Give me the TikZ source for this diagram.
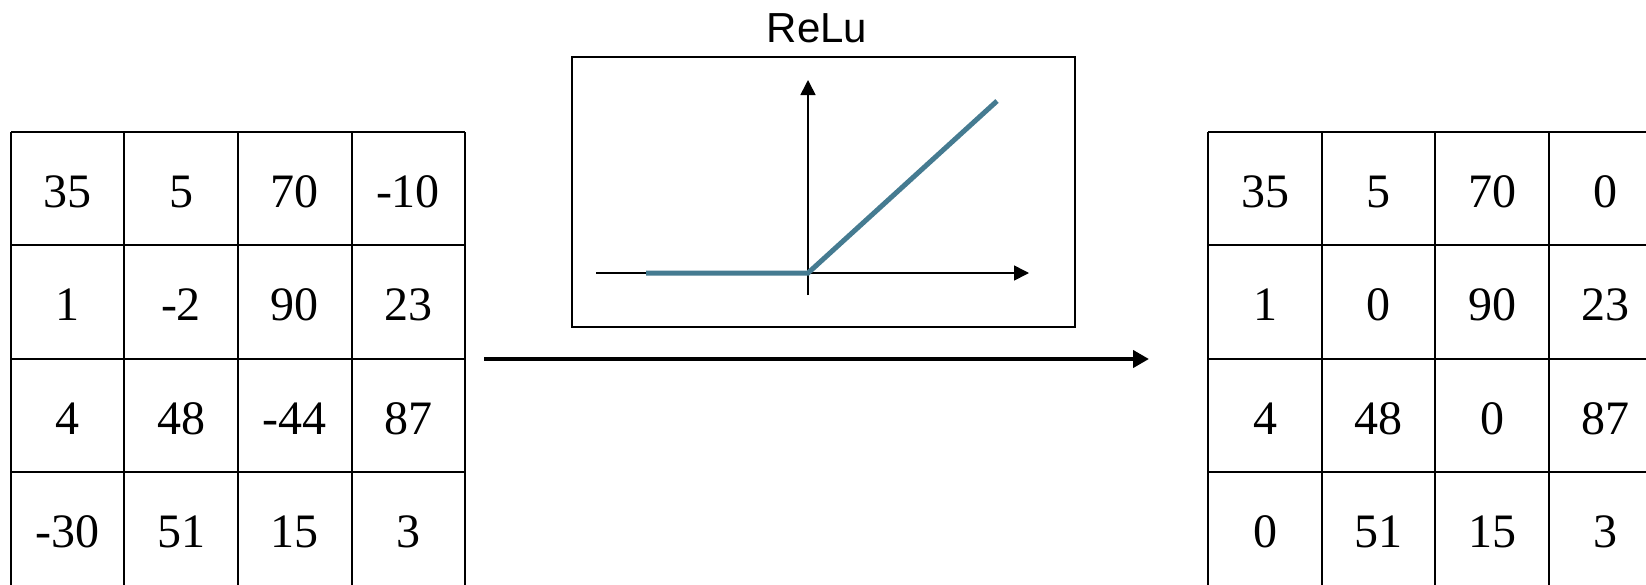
\documentclass[tikz,border=0pt]{standalone}
\usepackage{fontspec}
\setmainfont{Liberation Serif}
\newfontfamily\labelfont{Liberation Sans}
\usetikzlibrary{arrows.meta}
\definecolor{relublue}{HTML}{457B91}
\tikzset{
  gridline/.style={line width=1.9pt, black},
  cellnum/.style={font=\fontsize{48}{48}\selectfont, inner sep=0pt, anchor=base},
  axis/.style={line width=1.6pt, -{Triangle[length=15pt,width=15pt]}},
  reluline/.style={line width=5pt, relublue},
  framebox/.style={draw, line width=1.7pt},
  bigarrow/.style={line width=4pt, -{Triangle[length=16pt,width=17pt]}}
}
\begin{document}
\begin{tikzpicture}[x=1pt,y=-1pt]
\useasboundingbox (0,0) rectangle (1646,584);
% left grid
\foreach \x in {11,124,238,352,465} \draw[gridline] (\x,132) -- (\x,590);
\foreach \y in {132,245,359,472} \draw[gridline] (11,\y) -- (465,\y);
% right grid
\foreach \x in {1208,1322,1435,1549} \draw[gridline] (\x,132) -- (\x,590);
\foreach \y in {132,245,359,472} \draw[gridline] (1208,\y) -- (1660,\y);
% left numbers
\foreach \v [count=\i from 0] in {35,5,70,-10} \node[cellnum] (la\i) at ({67.5+113.5*\i},207) {\v};
\foreach \v [count=\i from 0] in {1,-2,90,23} \node[cellnum] (lb\i) at ({67.5+113.5*\i},320.5) {\v};
\foreach \v [count=\i from 0] in {4,48,-44,87} \node[cellnum] (lc\i) at ({67.5+113.5*\i},434) {\v};
\foreach \v [count=\i from 0] in {-30,51,15,3} \node[cellnum] (ld\i) at ({67.5+113.5*\i},547.5) {\v};
% right numbers
\foreach \v [count=\i from 0] in {35,5,70,0} \node[cellnum] (ra\i) at ({1265+113.5*\i},207) {\v};
\foreach \v [count=\i from 0] in {1,0,90,23} \node[cellnum] (rb\i) at ({1265+113.5*\i},320.5) {\v};
\foreach \v [count=\i from 0] in {4,48,0,87} \node[cellnum] (rc\i) at ({1265+113.5*\i},434) {\v};
\foreach \v [count=\i from 0] in {0,51,15,3} \node[cellnum] (rd\i) at ({1265+113.5*\i},547.5) {\v};
% ReLU box
\node[framebox, minimum width=503pt, minimum height=270pt, inner sep=0pt] (relubox) at (823.5,192) {};
\node[font=\labelfont\fontsize{42}{42}\selectfont, inner sep=0pt, anchor=base] (relutitle) at (817,42) {ReLu};
\coordinate (origin) at (808,273);
\coordinate (xstart) at (596,273);
\coordinate (xend) at (1029,273);
\coordinate (ystart) at (808,295);
\coordinate (yend) at (808,80);
\coordinate (rstart) at (646,273);
\coordinate (rend) at (997,101);
\draw[axis] (xstart) -- (xend);
\draw[axis] (ystart) -- (yend);
\draw[reluline] (rstart) -- (origin) -- (rend);
% big arrow
\coordinate (astart) at (484,359);
\coordinate (aend) at (1149,359);
\draw[bigarrow] (astart) -- (aend);
\end{tikzpicture}
\end{document}
